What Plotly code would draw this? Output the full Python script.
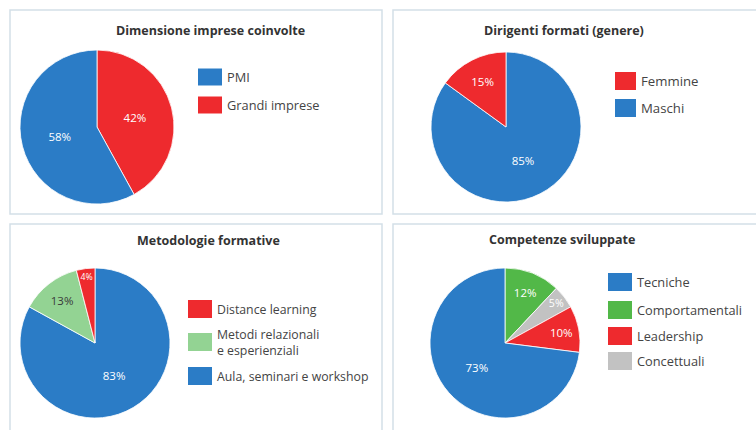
import plotly.graph_objects as go

W, H = 756, 430

# ---- data ----
p1_title = "Dimensione imprese coinvolte"
p1_labels = ["PMI", "Grandi imprese"]
p1_values = [58, 42]

p2_title = "Dirigenti formati (genere)"
p2_labels = ["Femmine", "Maschi"]
p2_values = [15, 85]

p3_title = "Metodologie formative"
p3_labels = ["Distance learning", "Metodi relazionali<br>e esperienziali", "Aula, seminari e workshop"]
p3_values = [4, 13, 83]

p4_title = "Competenze sviluppate"
p4_labels = ["Tecniche", "Comportamentali", "Leadership", "Concettuali"]
p4_values = [73, 12, 10, 5]
p4_slice_order = [1, 3, 2, 0]  # order of slices around the pie (clockwise from top)

BLUE = "#2b7cc6"
RED = "#ee2a2e"
LGREEN = "#93d393"
GREEN = "#52b848"
GREY = "#c2c2c2"

p1_colors = [BLUE, RED]
p2_colors = [RED, BLUE]
p3_colors = [RED, LGREEN, BLUE]
p4_colors = [BLUE, GREEN, RED, GREY]
p3_textcolors = ["white", "#3a3a3a", "white"]

FONT = "Open Sans"


def px(x):
    return x / W


def py(y):
    return 1 - y / H


fig = go.Figure()


def add_pie(labels, values, colors, cx, cy, r, textcolors=None, order=None):
    if order is None:
        order = list(range(len(labels)))[::-1]
    lab = [labels[i] for i in order]
    val = [values[i] for i in order]
    col = [colors[i] for i in order]
    tc = [(textcolors[i] if textcolors else "white") for i in order]
    fig.add_trace(go.Pie(
        labels=lab, values=val, sort=False, direction="clockwise", rotation=0,
        marker=dict(colors=col, line=dict(color="white", width=0.8)),
        texttemplate="%{value}%", textposition="inside", insidetextorientation="horizontal",
        textfont=dict(family=FONT, size=11.5, color=tc),
        hoverinfo="label+percent", showlegend=False,
        domain=dict(x=[px(cx - r), px(cx + r)], y=[py(cy + r), py(cy - r)]),
    ))


add_pie(p1_labels, p1_values, p1_colors, 97, 127, 77)
add_pie(p2_labels, p2_values, p2_colors, 506, 127, 75)
add_pie(p3_labels, p3_values, p3_colors, 95, 343, 75, textcolors=p3_textcolors)
add_pie(p4_labels, p4_values, p4_colors, 505, 343, 75, order=p4_slice_order)

shapes = []
annotations = []

# panel frames
for (x0, y0, x1, y1) in [(10, 10, 382, 214), (393, 10, 760, 214), (10, 224, 382, 440), (393, 224, 760, 440)]:
    shapes.append(dict(type="rect", xref="paper", yref="paper",
                       x0=px(x0), x1=px(x1), y0=py(y1), y1=py(y0),
                       line=dict(color="#d3e0e8", width=1.5), fillcolor="rgba(0,0,0,0)", layer="below"))

# titles
for t, cx, cy in [(p1_title, 210, 30), (p2_title, 564, 30), (p3_title, 208, 240), (p4_title, 562, 239)]:
    annotations.append(dict(text="<b>" + t + "</b>", x=px(cx), y=py(cy), xref="paper", yref="paper",
                            showarrow=False, xanchor="center", yanchor="middle",
                            font=dict(family=FONT, size=12.5, color="#333333")))


def legend(labels, colors, x0, ys, sw, sh, fs):
    for lab, c, yc in zip(labels, colors, ys):
        shapes.append(dict(type="rect", xref="paper", yref="paper",
                           x0=px(x0), x1=px(x0 + sw), y0=py(yc + sh / 2), y1=py(yc - sh / 2),
                           line=dict(width=0), fillcolor=c))
        annotations.append(dict(text=lab, x=px(x0 + sw + 3), y=py(yc), xref="paper", yref="paper",
                                showarrow=False, xanchor="left", yanchor="middle", align="left",
                                font=dict(family=FONT, size=fs, color="#444444")))


legend(p1_labels, p1_colors, 198, [77, 105], 24, 17, 12.8)
legend(p2_labels, p2_colors, 615, [81, 108], 21, 18, 13.2)
legend(p3_labels, p3_colors, 188, [309, 342, 376], 24, 18, 12.3)
legend(p4_labels, p4_colors, 608, [282, 310, 336, 361], 24, 18, 12.8)

fig.update_layout(
    width=W, height=H, margin=dict(l=0, r=0, t=0, b=0),
    paper_bgcolor="white", plot_bgcolor="white",
    shapes=shapes, annotations=annotations, showlegend=False,
)

fig.write_html("out.html")
